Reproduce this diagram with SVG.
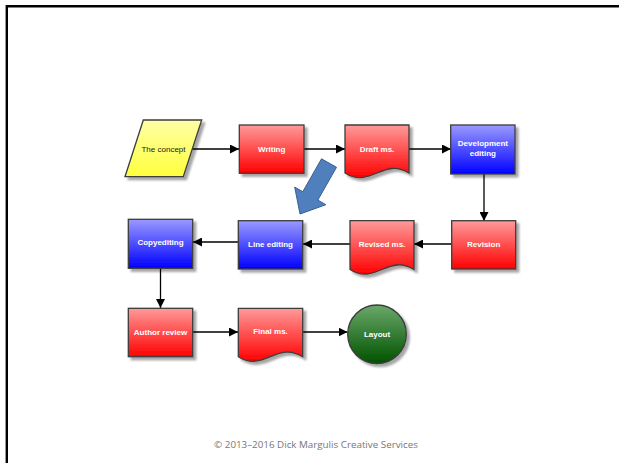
<svg xmlns="http://www.w3.org/2000/svg" width="619" height="463" viewBox="0 0 619 463">
  <defs>
    <linearGradient id="gRed" x1="0" y1="0" x2="0" y2="1">
      <stop offset="0" stop-color="#ff9a9a"/>
      <stop offset="1" stop-color="#ff0000"/>
    </linearGradient>
    <linearGradient id="gBlue" x1="0" y1="0" x2="0" y2="1">
      <stop offset="0" stop-color="#9a9aff"/>
      <stop offset="1" stop-color="#0000ff"/>
    </linearGradient>
    <linearGradient id="gYellow" x1="0" y1="0" x2="0" y2="1">
      <stop offset="0" stop-color="#ffffa6"/>
      <stop offset="1" stop-color="#ffff3c"/>
    </linearGradient>
    <linearGradient id="gGreen" x1="0" y1="0" x2="0" y2="1">
      <stop offset="0" stop-color="#6aa86a"/>
      <stop offset="1" stop-color="#005200"/>
    </linearGradient>
    <filter id="shadow" x="-20%" y="-20%" width="150%" height="150%">
      <feDropShadow dx="3" dy="3" stdDeviation="1.2" flood-color="#000" flood-opacity="0.35"/>
    </filter>
    <marker id="arrow" viewBox="0 0 10 10" refX="10" refY="5" markerWidth="9" markerHeight="9" markerUnits="userSpaceOnUse" orient="auto">
      <path d="M0,0 L10,5 L0,10 Z" fill="#000"/>
    </marker>
  </defs>
  <style>
    .shape { stroke: #3c3c3c; stroke-width: 1.3; filter: url(#shadow); }
    .red { fill: url(#gRed); }
    .blue { fill: url(#gBlue); }
    .yellow { fill: url(#gYellow); }
    .green { fill: url(#gGreen); }
    .lbl { font-family: "Liberation Sans", Arial, sans-serif; font-size: 8px; font-weight: bold; fill: #ffffff; text-anchor: middle; }
    .lbl-dark { font-family: "Liberation Sans", Arial, sans-serif; font-size: 8px; fill: #1a1a1a; text-anchor: middle; }
    .conn { stroke: #000; stroke-width: 1.3; fill: none; marker-end: url(#arrow); }
    .frame { stroke: #000; stroke-width: 2.4; fill: none; }
    .credit { font-family: "Open Sans", "Liberation Sans", sans-serif; font-size: 9.8px; fill: #777777; text-anchor: middle; }
  </style>

  <rect width="619" height="463" fill="#ffffff"/>
  <path class="frame" d="M6.8,463 V6.2 H619"/>

  <!-- flow connectors -->
  <g id="connectors">
    <line class="conn" x1="192" y1="149" x2="239" y2="149"/>
    <line class="conn" x1="304" y1="149" x2="345" y2="149"/>
    <line class="conn" x1="409" y1="149" x2="451" y2="149"/>
    <line class="conn" x1="484" y1="174" x2="484" y2="221"/>
    <line class="conn" x1="452" y1="244" x2="414" y2="244"/>
    <line class="conn" x1="350" y1="244" x2="303" y2="244"/>
    <line class="conn" x1="238" y1="242" x2="193" y2="242"/>
    <line class="conn" x1="160.5" y1="268" x2="160.5" y2="308"/>
    <line class="conn" x1="193" y1="332" x2="238" y2="332"/>
    <line class="conn" x1="303" y1="332" x2="347.5" y2="332"/>
  </g>

  <g id="the-concept">
    <polygon class="shape yellow" points="143.3,120 201.7,120 183.3,176.7 125,176.7"/>
    <text class="lbl-dark" x="163.5" y="151.5">The concept</text>
  </g>

  <g id="writing">
    <rect class="shape red" x="239.3" y="125" width="64.7" height="48.3"/>
    <text class="lbl" x="271.7" y="151.5">Writing</text>
  </g>

  <g id="draft-ms">
    <path class="shape red" d="M345,125 H409 V173 C383.4,157 370.6,189 345,173 Z"/>
    <text class="lbl" x="377" y="151.5">Draft ms.</text>
  </g>

  <g id="development-editing">
    <rect class="shape blue" x="450.7" y="125" width="64.3" height="49"/>
    <text class="lbl" x="482.9" y="146">Development</text>
    <text class="lbl" x="482.9" y="156">editing</text>
  </g>

  <g id="revision">
    <rect class="shape red" x="451.7" y="220.7" width="64" height="48.3"/>
    <text class="lbl" x="483.7" y="246.5">Revision</text>
  </g>

  <g id="revised-ms">
    <path class="shape red" d="M350,220.7 H414 V269.5 C388.4,253.5 375.6,285.5 350,269.5 Z"/>
    <text class="lbl" x="382" y="246.5">Revised ms.</text>
  </g>

  <g id="line-editing">
    <rect class="shape blue" x="238.3" y="220.7" width="64.4" height="48.3"/>
    <text class="lbl" x="270.5" y="247">Line editing</text>
  </g>

  <g id="copyediting">
    <rect class="shape blue" x="128.3" y="219.3" width="64.4" height="49"/>
    <text class="lbl" x="160.5" y="245">Copyediting</text>
  </g>

  <g id="author-review">
    <rect class="shape red" x="128.3" y="308.3" width="64.4" height="48.4"/>
    <text class="lbl" x="160.5" y="334.5">Author review</text>
  </g>

  <g id="final-ms">
    <path class="shape red" d="M238.3,308.3 H302.7 V356.7 C277,340.7 264,372.7 238.3,356.7 Z"/>
    <text class="lbl" x="270.5" y="334">Final ms.</text>
  </g>

  <g id="layout">
    <circle class="shape green" cx="377" cy="334.3" r="29.3"/>
    <text class="lbl" x="377" y="337">Layout</text>
  </g>

  <!-- blue callout arrow pointing at the line-editing step -->
  <g id="pointer">
    <polygon points="321.5,158.8 336.5,167.3 317.8,200.1 325.9,204.7 300,214 294.7,187.1 302.8,191.7" fill="#4f7fbd" stroke="#3a5f8f" stroke-width="1"/>
  </g>

  <text class="credit" x="316" y="448">© 2013–2016 Dick Margulis Creative Services</text>
</svg>
